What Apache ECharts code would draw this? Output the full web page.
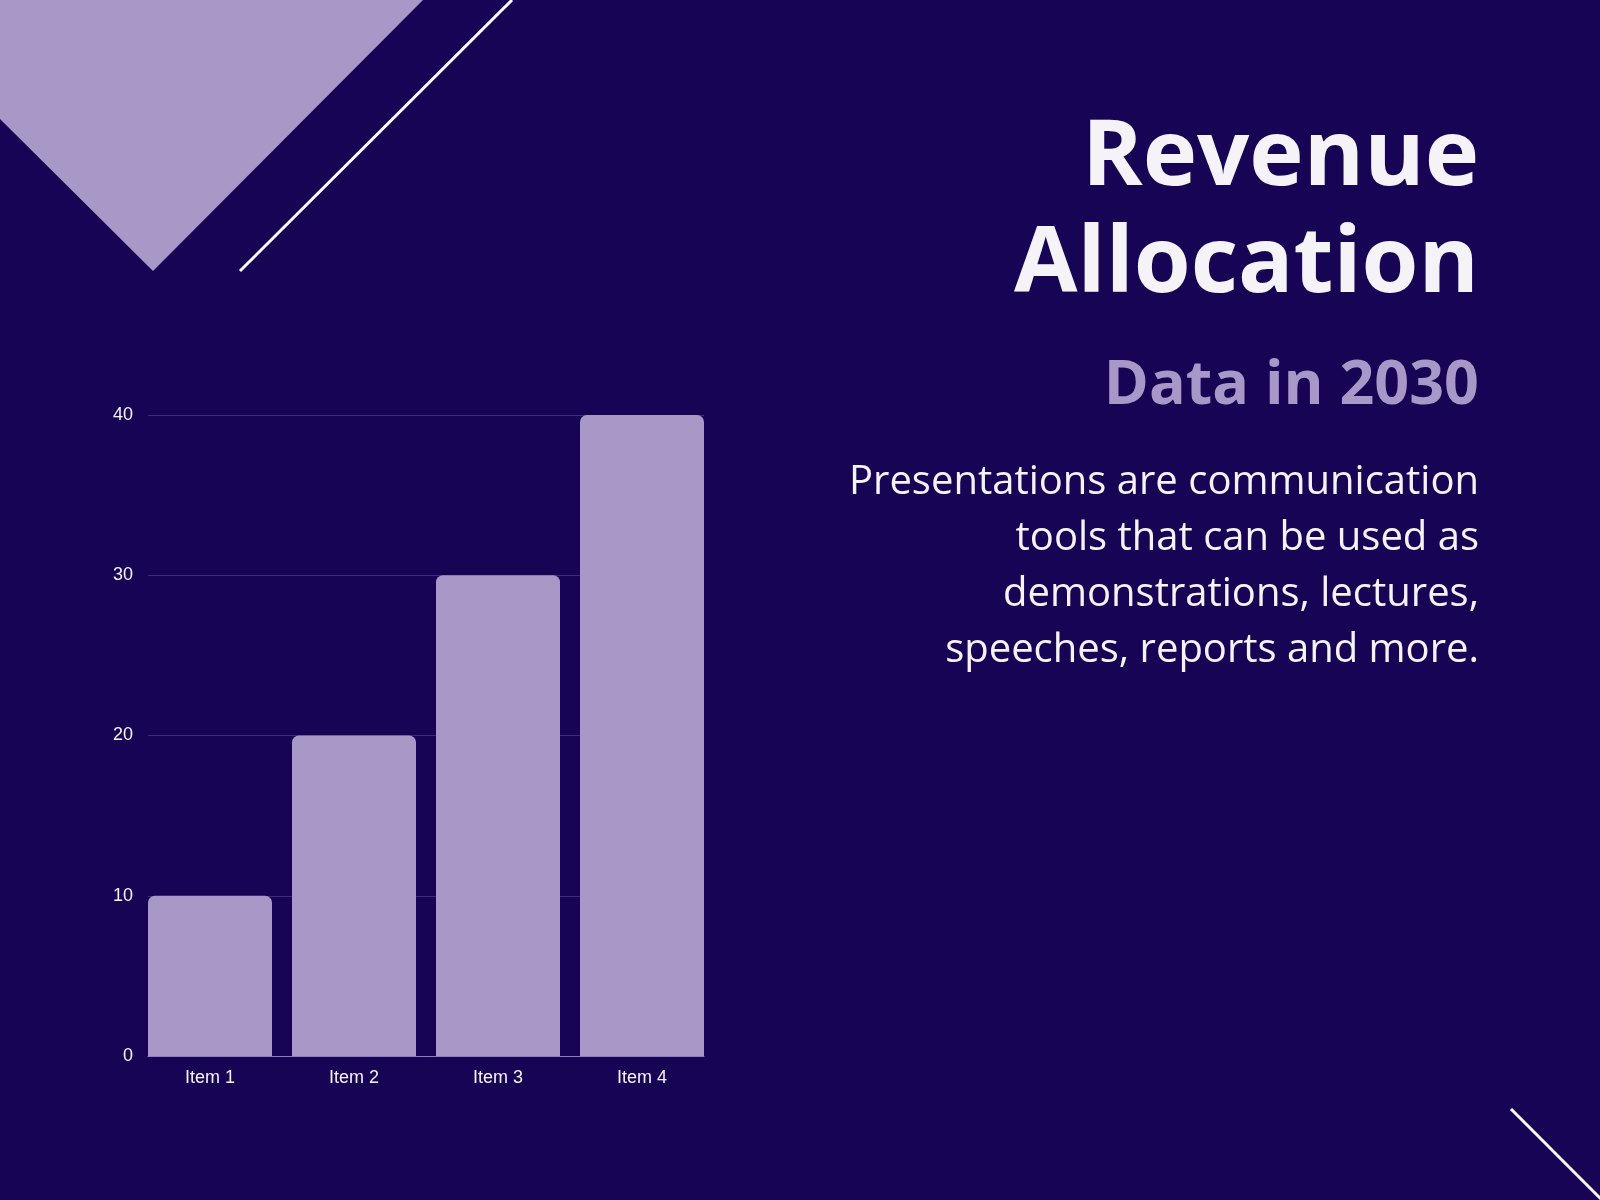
<!DOCTYPE html>
<html>
<head>
<meta charset="utf-8">
<title>Revenue Allocation</title>
<script src="https://cdn.jsdelivr.net/npm/echarts@6/dist/echarts.min.js"></script>
<style>
  html, body { margin: 0; padding: 0; background: #170455; }
  #chart { width: 1600px; height: 1200px; }
</style>
</head>
<body>
<div id="chart"></div>
<script>
// data
const categories = ['Item 1', 'Item 2', 'Item 3', 'Item 4'];
const values = [10, 20, 30, 40];
const yTicks = [0, 10, 20, 30, 40];

const titleLines = ['Revenue', 'Allocation'];
const subtitle = 'Data in 2030';
const paragraph = [
  'Presentations are communication',
  'tools that can be used as',
  'demonstrations, lectures,',
  'speeches, reports and more.'
];

const BG = '#170455';
const LILAC = '#a898c8';
const TEXT = '#f5f3f8';
const TEXT_RIGHT = 1479;

const chart = echarts.init(document.getElementById('chart'));

// text block on the right (y = top of the text box)
const textEls = [];
titleLines.forEach((t, i) => {
  textEls.push({
    type: 'text', x: TEXT_RIGHT, y: 113 + i * 107,
    style: { text: t, fill: TEXT, font: 'bold 92px "Open Sans"', textAlign: 'right', verticalAlign: 'top' }
  });
});
textEls.push({
  type: 'text', x: TEXT_RIGHT, y: 356,
  style: { text: subtitle, fill: LILAC, font: 'bold 61px "Open Sans"', textAlign: 'right', verticalAlign: 'top' }
});
paragraph.forEach((t, i) => {
  textEls.push({
    type: 'text', x: TEXT_RIGHT, y: 463 + i * 56,
    style: { text: t, fill: TEXT, font: '40px "Open Sans"', textAlign: 'right', verticalAlign: 'top' }
  });
});

const option = {
  backgroundColor: BG,
  animation: false,
  graphic: [
    // decoration top-left
    { type: 'polygon', shape: { points: [[0, 0], [423, 0], [153, 271], [0, 119]] }, style: { fill: LILAC } },
    { type: 'line', shape: { x1: 240, y1: 271, x2: 512, y2: 0 }, style: { stroke: '#ffffff', lineWidth: 3 } },
    // decoration bottom-right
    { type: 'line', shape: { x1: 1511, y1: 1109, x2: 1605, y2: 1203 }, style: { stroke: '#ffffff', lineWidth: 3 } }
  ].concat(textEls),
  grid: [
    // axis grid (labels, split lines)
    { left: 148, right: 896, top: 415, bottom: 144 },
    // bar grid, widened so the outer bars sit flush with the axis
    { left: 138, right: 886, top: 415, bottom: 144 }
  ],
  xAxis: [
    {
      gridIndex: 0, type: 'category', data: categories,
      axisLine: { show: true, lineStyle: { color: '#8f7fbf', width: 1 } },
      axisTick: { show: false }, axisLabel: { show: false }, splitLine: { show: false }
    },
    {
      gridIndex: 1, type: 'category', data: categories,
      axisLine: { show: false }, axisTick: { show: false },
      axisLabel: { color: TEXT, fontSize: 18, fontFamily: 'Liberation Sans', margin: 13 }
    }
  ],
  yAxis: [
    {
      gridIndex: 0, type: 'value', min: yTicks[0], max: yTicks[yTicks.length - 1], interval: 10,
      axisLine: { show: false }, axisTick: { show: false },
      axisLabel: { color: TEXT, fontSize: 18, fontFamily: 'Liberation Sans', margin: 15 },
      splitLine: { lineStyle: { color: '#3d2c7d', width: 1 } }
    },
    {
      gridIndex: 1, type: 'value', min: yTicks[0], max: yTicks[yTicks.length - 1], interval: 10,
      show: false
    }
  ],
  series: [{
    type: 'bar',
    xAxisIndex: 1, yAxisIndex: 1,
    data: values,
    barWidth: 124,
    itemStyle: { color: LILAC, borderRadius: [7, 7, 0, 0] }
  }]
};

chart.setOption(option);
</script>
</body>
</html>
